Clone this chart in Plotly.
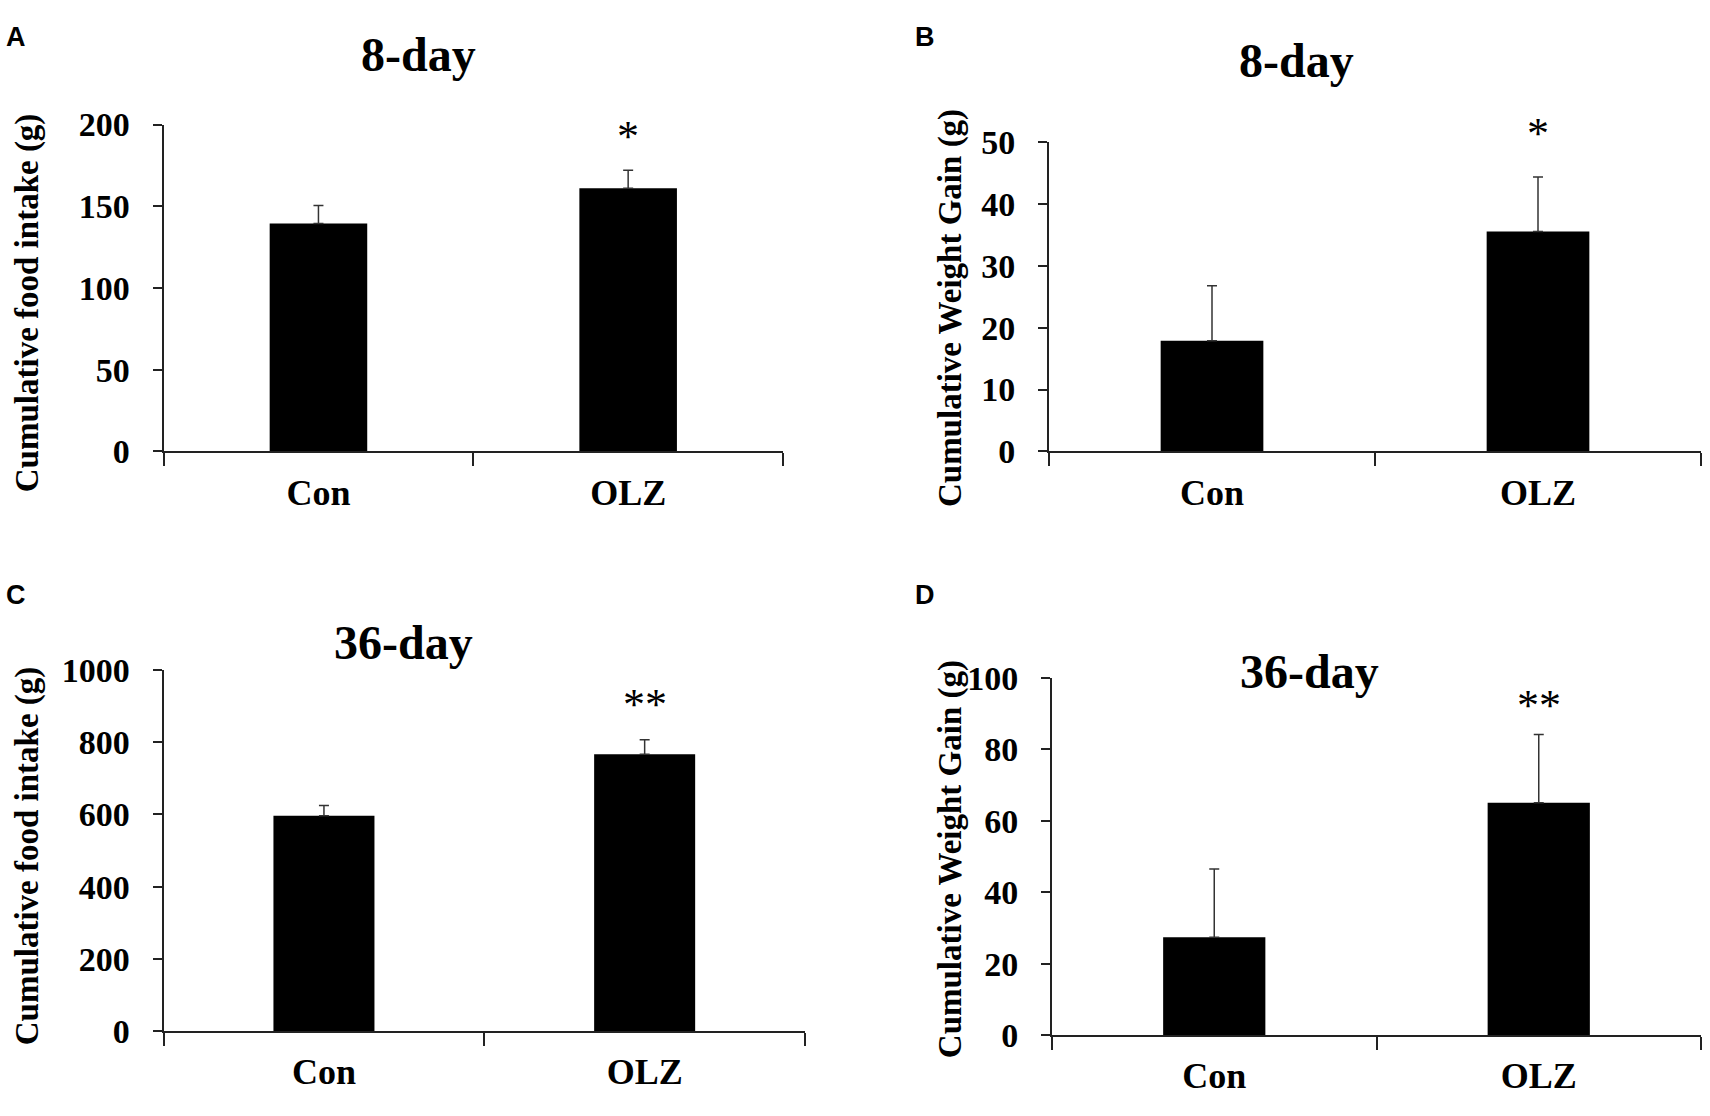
import plotly.graph_objects as go

groups = ["Con", "OLZ"]

# panel A: 8-day food intake
food8_mean = [139.5, 161]
food8_sem = [11, 11]
# panel B: 8-day weight gain
gain8_mean = [17.9, 35.6]
gain8_sem = [8.9, 8.8]
# panel C: 36-day food intake
food36_mean = [596, 766]
food36_sem = [28, 40]
# panel D: 36-day weight gain
gain36_mean = [27.4, 65.1]
gain36_sem = [19.1, 19.1]

sig_marks = ["*", "*", "**", "**"]
sig_y = [192.5, 51.5, 903, 92.3]

W, H = 1710, 1116
SERIF = "Liberation Serif, Times New Roman, serif"

def px(x):
    return x / W

def py(y):
    return 1 - y / H

panels = [
    # letter, title, ytitle, mean, sem, x0, x1, ytop, ybot, range, dtick, letter pos, title pos, ytitle pos
    ("A", "8-day", "Cumulative food intake (g)", food8_mean, food8_sem,
     163.6, 783, 110.2, 448.2, [0, 200], 50, (16, 20), (418, 38), (27, 295)),
    ("B", "8-day", "Cumulative Weight Gain (g)", gain8_mean, gain8_sem,
     1049, 1701, 128.7, 448.2, [0, 50], 10, (925, 20), (1296, 44), (950, 300)),
    ("C", "36-day", "Cumulative food intake (g)", food36_mean, food36_sem,
     163.6, 805, 674, 1048, [0, 1000], 200, (16, 597), (403, 646), (27, 867)),
    ("D", "36-day", "Cumulative Weight Gain (g)", gain36_mean, gain36_sem,
     1052, 1701, 682.7, 1052, [0, 100], 20, (925, 597), (1309, 676), (950, 870)),
]

fig = go.Figure()
annotations = []
layout = {}

for i, (letter, title, ytitle, mean, sem, x0, x1, ytop, ybot, yr, dt,
        lpos, tpos, ytpos) in enumerate(panels):
    n = i + 1
    xa = "x" if n == 1 else f"x{n}"
    ya = "y" if n == 1 else f"y{n}"
    fig.add_trace(go.Bar(
        x=groups, y=mean, xaxis=xa, yaxis=ya,
        width=0.315,
        marker=dict(color="black", line=dict(width=0)),
        error_y=dict(type="data", symmetric=False, array=sem,
                     arrayminus=[0, 0], color="#333333",
                     thickness=1.5, width=5),
        showlegend=False,
    ))
    layout["xaxis" if n == 1 else f"xaxis{n}"] = dict(
        domain=[px(x0), px(x1)], anchor=ya, type="category",
        range=[-0.5, 1.5], tickson="boundaries",
        showline=True, linecolor="#222222", linewidth=2,
        ticks="outside", ticklen=13, tickwidth=2, tickcolor="#222222",
        ticklabelstandoff=8, showgrid=False, zeroline=False,
        tickfont=dict(family=SERIF, size=36, color="black", weight="bold"),
    )
    layout["yaxis" if n == 1 else f"yaxis{n}"] = dict(
        domain=[py(ybot), py(ytop)], anchor=xa, range=yr, dtick=dt,
        showline=True, linecolor="#222222", linewidth=2,
        ticks="outside", ticklen=9, tickwidth=2, tickcolor="#222222",
        ticklabelstandoff=16, showgrid=False, zeroline=False,
        tickfont=dict(family=SERIF, size=34, color="black", weight="bold"),
    )
    annotations.append(dict(
        text=letter, x=px(lpos[0]), y=py(lpos[1]), xref="paper", yref="paper",
        showarrow=False, xanchor="center", yanchor="middle",
        font=dict(family="Liberation Sans, Arial, sans-serif", size=27,
                  color="black", weight="bold"),
    ))
    annotations.append(dict(
        text=title, x=px(tpos[0]), y=py(tpos[1]), xref="paper", yref="paper",
        showarrow=False, xanchor="center", yanchor="middle",
        font=dict(family=SERIF, size=48, color="black", weight="bold"),
    ))
    annotations.append(dict(
        text=ytitle, x=px(ytpos[0]), y=py(ytpos[1]), xref="paper", yref="paper",
        showarrow=False, xanchor="center", yanchor="middle", textangle=-90,
        font=dict(family=SERIF, size=33, color="black", weight="bold"),
    ))
    # significance mark above the OLZ bar (domain ref so it may sit above the range)
    annotations.append(dict(
        text=sig_marks[i], x=groups[1], y=sig_y[i] / yr[1],
        xref=xa, yref=f"{ya} domain",
        showarrow=False, xanchor="center", yanchor="middle",
        font=dict(family=SERIF, size=44, color="black"),
    ))

fig.update_layout(
    width=W, height=H,
    margin=dict(l=0, r=0, t=0, b=0),
    paper_bgcolor="white", plot_bgcolor="white",
    annotations=annotations,
    **layout,
)

fig.write_html("out.html", config={"displayModeBar": False},
               post_script="document.body.style.margin='0';"
                           "document.body.style.overflow='hidden';")
